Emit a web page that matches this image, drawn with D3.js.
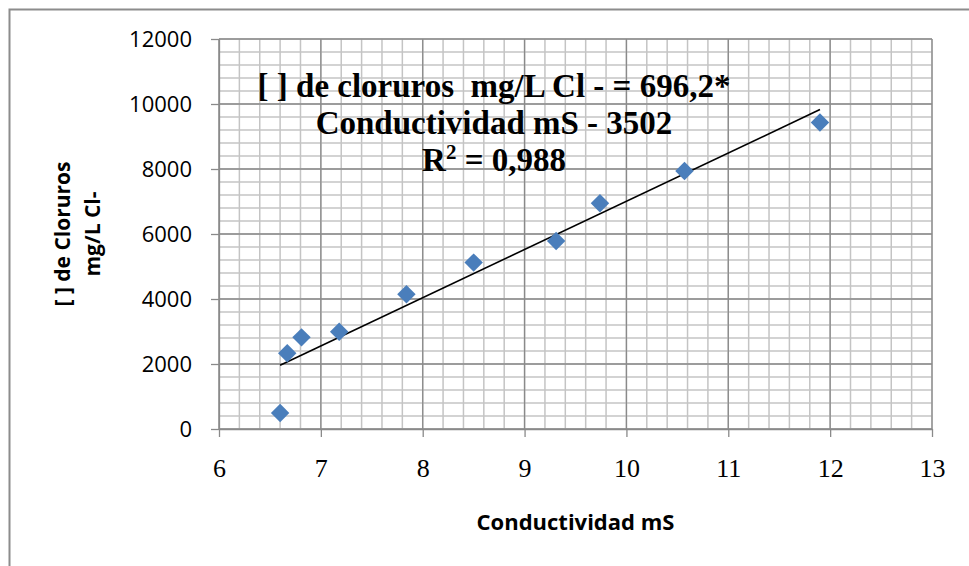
<!DOCTYPE html>
<html>
<head>
<meta charset="utf-8">
<script src="https://cdn.jsdelivr.net/npm/d3@7"></script>
<style>
  html, body { margin: 0; padding: 0; background: #fff; }
  svg { display: block; }
</style>
</head>
<body>
<div id="chart"></div>
<script>
// conductividad (mS) and chloride concentration (mg/L Cl-)
const conductividad = [6.6, 6.67, 6.81, 7.18, 7.84, 8.5, 9.31, 9.74, 10.57, 11.9];
const cloruros = [490, 2330, 2820, 2990, 4145, 5120, 5785, 6945, 7940, 9430];

const xTicks = [6, 7, 8, 9, 10, 11, 12, 13];
const yTicks = [0, 2000, 4000, 6000, 8000, 10000, 12000];
const xMinorStep = 0.2;
const yMinorStep = 400;

const xTitle = 'Conductividad mS';
const yTitle = ['[ ] de Cloruros', 'mg/L Cl-'];
const eqLines = ['[ ] de cloruros  mg/L Cl - = 696,2*', 'Conductividad mS - 3502'];
const r2Text = ['R', '2', ' = 0,988'];

const width = 969, height = 566;
const margin = { left: 219, right: 932, top: 39, bottom: 429 };

const svg = d3.select('#chart').append('svg')
    .attr('width', width)
    .attr('height', height);

// outer chart frame (right and bottom run off the picture)
svg.append('rect')
    .attr('x', 9.5).attr('y', 9.5)
    .attr('width', 1000).attr('height', 600)
    .attr('fill', '#fff')
    .attr('stroke', '#8c8c8c')
    .attr('stroke-width', 2);

const x = d3.scaleLinear().domain([6, 13]).range([margin.left, margin.right]);
const y = d3.scaleLinear().domain([0, 12000]).range([margin.bottom, margin.top]);

const xMinor = d3.range(6, 13 + 1e-9, xMinorStep);
const yMinor = d3.range(0, 12000 + 1, yMinorStep);

// minor grid
const grid = svg.append('g');
grid.selectAll('line.vx')
  .data(xMinor)
  .join('line')
    .attr('x1', d => x(d)).attr('x2', d => x(d))
    .attr('y1', y(0)).attr('y2', y(12000))
    .attr('stroke', '#c4c4c4')
    .attr('stroke-width', 1.5);
grid.selectAll('line.hy')
  .data(yMinor)
  .join('line')
    .attr('y1', d => y(d)).attr('y2', d => y(d))
    .attr('x1', x(6)).attr('x2', x(13))
    .attr('stroke', '#c4c4c4')
    .attr('stroke-width', 1.5);

// major grid
grid.append('g').selectAll('line')
  .data(xTicks)
  .join('line')
    .attr('x1', d => x(d)).attr('x2', d => x(d))
    .attr('y1', y(0)).attr('y2', y(12000))
    .attr('stroke', '#8a8a8a')
    .attr('stroke-width', 1.3);
grid.append('g').selectAll('line')
  .data(yTicks)
  .join('line')
    .attr('y1', d => y(d)).attr('y2', d => y(d))
    .attr('x1', x(6)).attr('x2', x(13))
    .attr('stroke', '#8a8a8a')
    .attr('stroke-width', 1.3);

// axes
const xAxis = svg.append('g')
    .attr('transform', `translate(0,${y(0)})`)
    .call(d3.axisBottom(x).tickValues(xTicks).tickFormat(d3.format('d'))
      .tickSize(8).tickPadding(22).tickSizeOuter(0));
xAxis.select('.domain').attr('stroke', '#8a8a8a').attr('stroke-width', 1.3);
xAxis.selectAll('.tick line').attr('stroke', '#8a8a8a').attr('stroke-width', 1.3);
xAxis.selectAll('text')
    .style('font-family', '"Liberation Serif", "Times New Roman", serif')
    .style('font-size', '26px')
    .attr('fill', '#000');

const yAxis = svg.append('g')
    .attr('transform', `translate(${x(6)},0)`)
    .call(d3.axisLeft(y).tickValues(yTicks).tickFormat(d3.format('d'))
      .tickSize(8).tickPadding(19).tickSizeOuter(0));
yAxis.select('.domain').attr('stroke', '#8a8a8a').attr('stroke-width', 1.3);
yAxis.selectAll('.tick line').attr('stroke', '#8a8a8a').attr('stroke-width', 1.3);
yAxis.selectAll('text')
    .style('font-family', '"Open Sans", sans-serif')
    .style('font-size', '22px')
    .attr('fill', '#000');

// linear trend line (least squares)
const n = conductividad.length;
const mx = d3.mean(conductividad), my = d3.mean(cloruros);
let sxy = 0, sxx = 0;
for (let i = 0; i < n; i++) {
  sxy += (conductividad[i] - mx) * (cloruros[i] - my);
  sxx += (conductividad[i] - mx) ** 2;
}
const slope = sxy / sxx;
const intercept = my - slope * mx;
const xExt = d3.extent(conductividad);
svg.append('path')
    .datum(xExt.map(v => [v, slope * v + intercept]))
    .attr('fill', 'none')
    .attr('stroke', '#000')
    .attr('stroke-width', 1.6)
    .attr('d', d3.line().x(d => x(d[0])).y(d => y(d[1])));

// markers
const pts = conductividad.map((c, i) => ({ c, v: cloruros[i] }));
svg.append('g').selectAll('path')
  .data(pts)
  .join('path')
    .attr('transform', d => `translate(${x(d.c)},${y(d.v)}) rotate(45)`)
    .attr('d', d3.symbol(d3.symbolSquare, 170))
    .attr('fill', '#4a7ebb');

// equation label
const eq = svg.append('text')
    .attr('text-anchor', 'middle')
    .style('font-family', '"Liberation Serif", "Times New Roman", serif')
    .style('font-weight', 'bold')
    .style('font-size', '33px')
    .style('white-space', 'pre')
    .attr('fill', '#000');
eqLines.forEach((t, i) => {
  eq.append('tspan').attr('x', 494).attr('y', 97 + i * 37).text(t);
});
const r2 = svg.append('text')
    .attr('x', 494).attr('y', 171)
    .attr('text-anchor', 'middle')
    .style('font-family', '"Liberation Serif", "Times New Roman", serif')
    .style('font-weight', 'bold')
    .style('font-size', '33px')
    .attr('fill', '#000');
r2.append('tspan').text(r2Text[0]);
r2.append('tspan').attr('dy', -12).style('font-size', '21px').text(r2Text[1]);
r2.append('tspan').attr('dy', 12).text(r2Text[2]);

// axis titles
svg.append('text')
    .attr('x', (margin.left + margin.right) / 2)
    .attr('y', 530)
    .attr('text-anchor', 'middle')
    .style('font-family', '"Open Sans", sans-serif')
    .style('font-weight', 'bold')
    .style('font-size', '22px')
    .attr('fill', '#000')
    .text(xTitle);

const yt = svg.append('text')
    .attr('transform', `translate(0,${(margin.top + margin.bottom) / 2}) rotate(-90)`)
    .attr('text-anchor', 'middle')
    .style('font-family', '"Open Sans", sans-serif')
    .style('font-weight', 'bold')
    .style('font-size', '21px')
    .attr('fill', '#000');
yTitle.forEach((t, i) => {
  yt.append('tspan').attr('x', 0).attr('y', 70 + i * 30).text(t);
});
</script>
</body>
</html>
